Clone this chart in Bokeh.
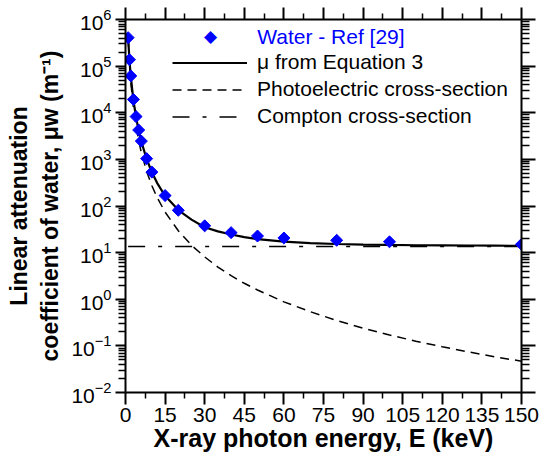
import numpy as np
from bokeh.plotting import figure
from bokeh.models import (Range1d, LinearAxis, LogAxis, FixedTicker, Label, Legend,
                          LegendItem, LogTickFormatter)
from bokeh.embed import file_html
from bokeh.resources import INLINE

# ---------------- data ----------------
ref_energy_keV = [1, 1.5, 2, 3, 4, 5, 6, 8, 10, 15, 20, 30, 40, 50, 60, 80, 100, 150]
ref_mu_water = [4.078e5, 1.376e5, 6.173e4, 1.929e4, 8278, 4258, 2464, 1037, 532.9,
                167.3, 80.96, 37.56, 26.83, 22.69, 20.59, 18.37, 17.07, 15.05]

curve_energy_keV = [1, 1.5, 2, 3, 4, 5, 6, 8, 10, 12, 15, 20, 25, 30, 35, 40, 45, 50,
                    60, 70, 80, 90, 100, 110, 120, 130, 140, 150]
mu_equation3 = [4.1e5, 1.33e5, 6.0e4, 1.85e4, 8.0e3, 4.1e3, 2.4e3, 1.02e3, 530, 310,
                165, 82, 51, 35, 28.5, 24.5, 21.5, 19.5, 17.2, 16.0, 15.3, 14.9,
                14.6, 14.4, 14.3, 14.2, 14.1, 14.0]
photoelectric = [4.0e5, 1.15e5, 4.6e4, 1.27e4, 5.1e3, 2.5e3, 1.39e3, 555, 271, 152,
                 74, 29.5, 14.4, 8.1, 4.9, 3.2, 2.2, 1.58, 0.88, 0.54, 0.35, 0.24,
                 0.171, 0.126, 0.096, 0.074, 0.058, 0.047]
compton_energy_keV = [1, 150]
compton_mu = [13.6, 13.6]

x_ticks = [0, 15, 30, 45, 60, 75, 90, 105, 120, 135, 150]
x_minor_ticks = [7.5, 22.5, 37.5, 52.5, 67.5, 82.5, 97.5, 112.5, 127.5, 142.5]
y_ticks = [1e-2, 1e-1, 1e0, 1e1, 1e2, 1e3, 1e4, 1e5, 1e6]
y_minor_ticks = [m * 10.0 ** k for k in range(-2, 6) for m in range(2, 10)]

legend_labels = ["Water - Ref [29]", "\u03bc from Equation 3",
                 "Photoelectric cross-section", "Compton cross-section"]
x_title = "X-ray photon energy, E (keV)"
y_title = "Linear attenuation\ncoefficient of water, \u03bcw (m\u207b\u00b9)"

FONT = "Liberation Sans"
BLUE = "#0000FF"

# ---------------- figure ----------------
p = figure(frame_width=396, frame_height=373,
           x_range=Range1d(0, 150), y_range=Range1d(1e-2, 1e6),
           y_axis_type="log", output_backend="svg", toolbar_location=None,
           min_border_left=125, min_border_right=18, min_border_top=19,
           min_border_bottom=81)
p.grid.visible = False
p.outline_line_color = None
p.background_fill_color = "white"
p.border_fill_color = "white"

xt = FixedTicker(ticks=x_ticks, minor_ticks=x_minor_ticks)
yt = FixedTicker(ticks=y_ticks, minor_ticks=y_minor_ticks)


def style_axis(ax, major_out, minor_out):
    ax.axis_line_width = 2
    ax.axis_line_color = "black"
    ax.major_tick_line_width = 2
    ax.minor_tick_line_width = 1.5
    ax.major_tick_in = 0
    ax.minor_tick_in = 0
    ax.major_tick_out = major_out
    ax.minor_tick_out = minor_out


xa = p.xaxis[0]
xa.ticker = xt
style_axis(xa, 12, 6)
xa.major_label_text_font = FONT
xa.major_label_text_font_size = "21px"
xa.major_label_text_color = "black"
xa.major_label_standoff = 3
xa.axis_label = x_title
xa.axis_label_text_font = FONT
xa.axis_label_text_font_size = "25px"
xa.axis_label_text_font_style = "bold"
xa.axis_label_text_color = "black"
xa.axis_label_standoff = -1

ya = p.yaxis[0]
ya.ticker = yt
ya.formatter = LogTickFormatter()
style_axis(ya, 10, 7)
ya.major_label_text_font = FONT
ya.major_label_text_font_size = "21px"
ya.major_label_text_color = "black"
ya.major_label_standoff = 4
ya.axis_label = y_title
ya.axis_label_text_font = FONT
ya.axis_label_text_font_size = "23px"
ya.axis_label_text_font_style = "bold"
ya.axis_label_text_color = "black"
ya.axis_label_standoff = 5

top = LinearAxis(ticker=xt, major_label_text_font_size="1px",
                 major_label_text_color=None, major_label_standoff=0)
style_axis(top, 12, 6)
p.add_layout(top, "above")

right = LogAxis(ticker=yt, major_label_text_font_size="1px",
                major_label_text_color=None, major_label_standoff=0)
style_axis(right, 14, 8)
p.add_layout(right, "right")

# ---------------- glyphs ----------------
r_compton = p.line(compton_energy_keV, compton_mu, line_color="black",
                   line_width=1.5, line_dash="17 13 4 13")
r_photo = p.line(curve_energy_keV, photoelectric, line_color="black",
                 line_width=1.5, line_dash="9 6")
r_mu = p.line(curve_energy_keV, mu_equation3, line_color="black", line_width=2.2)
r_pts = p.scatter(ref_energy_keV, ref_mu_water, marker="square", angle=np.pi / 4,
                  size=8.5, fill_color=BLUE, line_color=BLUE)

# ---------------- legend ----------------
# first entry (diamond + blue text), drawn as text inside the frame
p.add_layout(Label(x=85, y=356.3, x_units="screen", y_units="screen",
                   text="\u25c6", text_font="DejaVu Sans", text_font_size="17px",
                   text_color=BLUE, text_align="center", text_baseline="middle"))
p.add_layout(Label(x=131.7, y=356.3, x_units="screen", y_units="screen",
                   text=legend_labels[0], text_font=FONT, text_font_size="21px",
                   text_color=BLUE, text_align="left", text_baseline="middle"))

leg2 = Legend(items=[LegendItem(label=legend_labels[1], renderers=[r_mu]),
                     LegendItem(label=legend_labels[2], renderers=[r_photo]),
                     LegendItem(label=legend_labels[3], renderers=[r_compton])],
              location=(47, 262.1), glyph_width=75, glyph_height=27,
              label_height=27, label_standoff=10, padding=0, margin=0, spacing=0,
              label_text_font=FONT, label_text_font_size="21px",
              label_text_color="black", border_line_color=None,
              background_fill_alpha=0)
p.add_layout(leg2)

open("out.html", "w").write(file_html(p, INLINE))
